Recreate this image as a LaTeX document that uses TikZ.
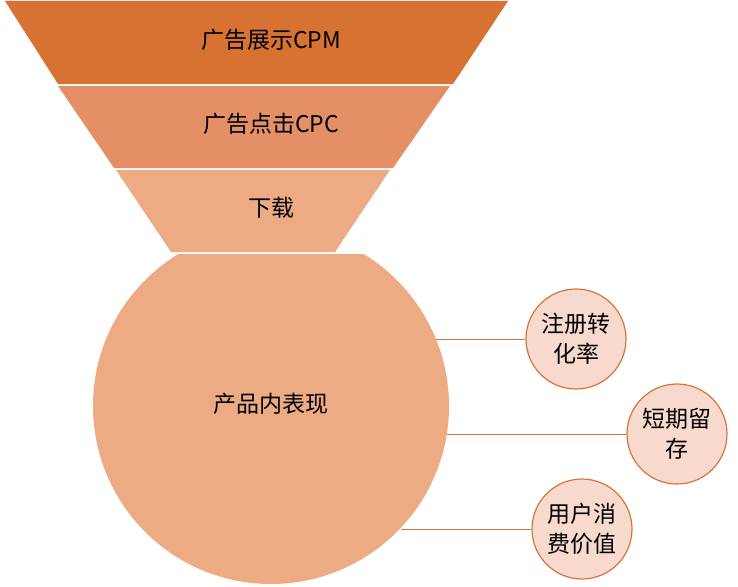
\documentclass[tikz,border=0pt]{standalone}
\usepackage{fontspec}
\newfontfamily\cjk{Noto Sans CJK SC}
\definecolor{fa}{HTML}{D77232}
\definecolor{fb}{HTML}{E58F66}
\definecolor{fc}{HTML}{EDAB84}
\definecolor{sc}{HTML}{F8D9CD}
\definecolor{sl}{HTML}{D4763A}
\begin{document}
\begin{tikzpicture}[x=1pt,y=-1pt,
  lbl/.style={font=\cjk\fontsize{23}{26}\selectfont, text=black},
  small/.style={circle, draw=sl, line width=1.2pt, fill=sc, minimum size=100pt, inner sep=0pt, align=center, font=\cjk\fontsize{23}{30}\selectfont},
  conn/.style={draw=sl, line width=0.9pt}]
\useasboundingbox (0,0) rectangle (738,586);
% funnel
\fill[fa] (5,1) -- (508,1) -- (453,84) -- (58,84) -- cycle;
\fill[fb] (58,86) -- (450,86) -- (393,168) -- (114,168) -- cycle;
\fill[fc] (116,170) -- (390,170) -- (335,252) -- (171,252) -- cycle;
\begin{scope}
  \clip (0,254) rectangle (738,586);
  \fill[fc] (271,406) circle[radius=178];
\end{scope}
\node[lbl] (t1) at (271,40) {广告展示CPM};
\node[lbl] (t2) at (271,124) {广告点击CPC};
\node[lbl] (t3) at (271,208) {下载};
\node[lbl] (t4) at (271,404) {产品内表现};
% small circles
\node[small] (c1) at (576,339) {注册转\\化率};
\node[small] (c2) at (677,434) {短期留\\存};
\node[small] (c3) at (582,529) {用户消\\费价值};
\coordinate (p1) at (436,339);
\coordinate (p2) at (447,434);
\coordinate (p3) at (401,529);
\draw[conn] (p1) -- (c1.west);
\draw[conn] (p2) -- (c2.west);
\draw[conn] (p3) -- (c3.west);
\end{tikzpicture}
\end{document}
